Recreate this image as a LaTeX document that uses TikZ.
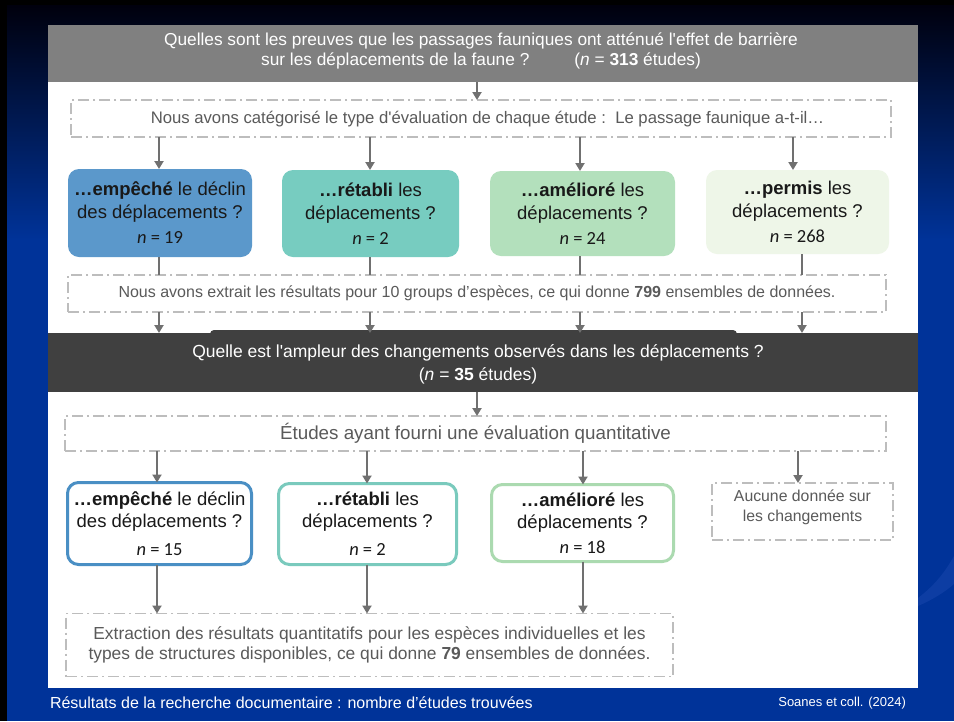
\documentclass[tikz,border=0pt]{standalone}
\usepackage{fontspec}
\setmainfont{Liberation Sans}
\newfontfamily\nfont{Carlito}
\usetikzlibrary{arrows.meta}
\definecolor{hdr}{HTML}{808080}
\definecolor{bandc}{HTML}{404040}
\definecolor{dline}{HTML}{BDBDBD}
\definecolor{arr}{HTML}{707070}
\definecolor{txtg}{HTML}{5A5A5A}
\definecolor{fA}{HTML}{5B98CB}
\definecolor{fB}{HTML}{77CCC0}
\definecolor{fC}{HTML}{B3E0BC}
\definecolor{fD}{HTML}{EEF6E8}
\definecolor{bA}{HTML}{4A8FC4}
\definecolor{bB}{HTML}{7ACABD}
\definecolor{bC}{HTML}{ABDAB0}
\definecolor{slideblue}{HTML}{003399}
\definecolor{topnavy}{HTML}{00000D}
\definecolor{swoosh}{HTML}{0D3DA3}
\newcommand\fsz[2]{\fontsize{#1}{#2}\selectfont}
\newcommand\nn[1]{{\nfont\fsz{18.5}{20}\textit{n} = #1}}
\begin{document}
\begin{tikzpicture}[x=1pt,y=-1pt,
  every node/.style={inner sep=0pt,outer sep=0pt},
  dbox/.style={draw=dline,line width=1.6pt,dash pattern=on 11pt off 4pt on 2pt off 4pt,fill=white},
  dtext/.style={text=txtg,align=center},
  fbox/.style={rounded corners=11pt,align=center,text=black!90,font=\fsz{18.5}{23}},
  obox/.style={rounded corners=11pt,align=center,text=black!90,font=\fsz{18.5}{22},line width=3pt,fill=white},
  conn/.style={draw=arr,line width=2.2pt,-{Triangle[width=9pt,length=8pt]}},
  link/.style={draw=arr,line width=2.2pt},
]
\useasboundingbox (0,0) rectangle (954,721);
% slide background
\fill[black] (0,0) rectangle (954,721);
\shade[top color=topnavy,bottom color=slideblue] (7,5) rectangle (954,240);
\fill[slideblue] (7,239) rectangle (954,721);
\fill[swoosh] (918,598) .. controls (935,585) and (945,572) .. (954,556) -- (954,584) .. controls (945,592) and (932,600) .. (918,606) -- cycle;
% white panel
\fill[white] (48,25) rectangle (918,688);

% column coordinates
\coordinate (k1) at (159,0);
\coordinate (k2) at (370,0);
\coordinate (k3) at (580,0);
\coordinate (k4) at (793,0);
\coordinate (m4) at (802,0);
\coordinate (mid) at (477,0);
\coordinate (r1) at (157,0);
\coordinate (r2) at (367,0);
\coordinate (r3) at (583,0);
\coordinate (r4) at (798,0);

% header
\node[fill=hdr,minimum width=870pt,minimum height=57pt] (head) at (483,53.5) {};
\node[text=white,align=center,font=\fsz{17.3}{20}] (headtxt) at (481,51)
  {Quelles sont les preuves que les passages fauniques ont atténué l\textquotesingle effet de barrière\\
   sur les déplacements de la faune ?\hspace{45pt}(\textit{n} = \textbf{313} études)};

% first dashed box
\node[dbox,minimum width=820pt,minimum height=37pt] (d1) at (481,118.5) {};
\node[dtext,font=\fsz{16.7}{19}] (d1t) at (487.5,119)
  {Nous avons catégorisé le type d\textquotesingle évaluation de chaque étude :\ \ Le passage faunique a-t-il…};

% row 1 boxes
\node[fbox,fill=fA,minimum width=184pt,minimum height=88pt] (b1) at (160,213)
  {\textbf{…empêché} le déclin\\des déplacements ?\\[2pt]\nn{19}};
\node[fbox,fill=fB,minimum width=177pt,minimum height=87pt] (b2) at (370.5,213.5)
  {\textbf{…rétabli} les\\déplacements ?\\[2pt]\nn{2}};
\node[fbox,fill=fC,minimum width=185pt,minimum height=85pt] (b3) at (582.5,213.5)
  {\textbf{…amélioré} les\\déplacements ?\\[2pt]\nn{24}};
\node[fbox,fill=fD,minimum width=183pt,minimum height=84pt] (b4) at (797.5,212)
  {\textbf{…permis} les\\déplacements ?\\[2pt]\nn{268}};

% second dashed box
\node[dbox,dtext,font=\fsz{16}{19},minimum width=818pt,minimum height=37pt] (d2) at (477,293.5)
  {Nous avons extrait les résultats pour 10 groups d'espèces, ce qui donne \textbf{799} ensembles de données.};

% dark band
\fill[bandc,rounded corners=4pt] (210,330) rectangle (737,346);
\node[fill=bandc,minimum width=870pt,minimum height=59pt] (band) at (483,362.5) {};
\node[text=white,align=center,font=\fsz{17.5}{23}] (bandtxt) at (478,364.5)
  {Quelle est l\textquotesingle ampleur des changements observés dans les déplacements ?\\
   (\textit{n} = \textbf{35} études)};

% third dashed box
\node[dbox,dtext,font=\fsz{18.8}{22},minimum width=821pt,minimum height=35pt] (d3) at (475.5,433.5)
  {Études ayant fourni une évaluation quantitative};

% row 2 boxes
\node[obox,draw=bA,minimum width=184pt,minimum height=82pt] (c1) at (159.5,523.5)
  {\textbf{…empêché} le déclin\\des déplacements ?\\[6pt]\nn{15}};
\node[obox,draw=bB,minimum width=178pt,minimum height=81pt] (c2) at (367.5,524)
  {\textbf{…rétabli} les\\déplacements ?\\[6pt]\nn{2}};
\node[obox,draw=bC,minimum width=182pt,minimum height=77pt] (c3) at (582.5,523)
  {\textbf{…amélioré} les\\déplacements ?\\[3pt]\nn{18}};
\node[dbox,minimum width=181pt,minimum height=57pt] (c4) at (802.5,511.5) {};
\node[dtext,font=\fsz{15.8}{20}] (c4t) at (802.5,507) {Aucune donnée sur\\les changements};

% final dashed box
\node[dbox,dtext,font=\fsz{17.4}{20},minimum width=607pt,minimum height=63pt] (d5) at (369.5,645)
  {Extraction des résultats quantitatifs pour les espèces individuelles et les\\
   types de structures disponibles, ce qui donne \textbf{79} ensembles de données.};

% captions
\node[anchor=west,text=white,font=\fsz{16}{19}] (cap) at (50,703)
  {Résultats de la recherche documentaire : nombre d'études trouvées};
\node[anchor=east,text=white,font=\fsz{13}{15}] (src) at (906,703) {Soanes et coll. (2024)};

% connectors
\draw[conn] (head.south -| mid) -- (d1.north -| mid);
\draw[conn] (d1.south -| k1) -- (b1.north -| k1);
\draw[conn] (d1.south -| k2) -- (b2.north -| k2);
\draw[conn] (d1.south -| k3) -- (b3.north -| k3);
\draw[conn] (d1.south -| k4) -- (b4.north -| k4);
\draw[link] (b1.south -| k1) -- (d2.north -| k1);
\draw[link] (b2.south -| k2) -- (d2.north -| k2);
\draw[link] (b3.south -| k3) -- (d2.north -| k3);
\draw[link] (b4.south -| m4) -- (d2.north -| m4);
\draw[conn] (d2.south -| k1) -- (band.north -| k1);
\draw[conn] (d2.south -| k2) -- (band.north -| k2);
\draw[conn] (d2.south -| k3) -- (band.north -| k3);
\draw[conn] (d2.south -| m4) -- (band.north -| m4);
\draw[conn] (band.south -| mid) -- (d3.north -| mid);
\draw[conn] (d3.south -| r1) -- (c1.north -| r1);
\draw[conn] (d3.south -| r2) -- (c2.north -| r2);
\draw[conn] (d3.south -| r3) -- (c3.north -| r3);
\draw[conn] (d3.south -| r4) -- (c4.north -| r4);
\draw[conn] (c1.south -| r1) -- (d5.north -| r1);
\draw[conn] (c2.south -| r2) -- (d5.north -| r2);
\draw[conn] (c3.south -| r3) -- (d5.north -| r3);
\end{tikzpicture}
\end{document}
